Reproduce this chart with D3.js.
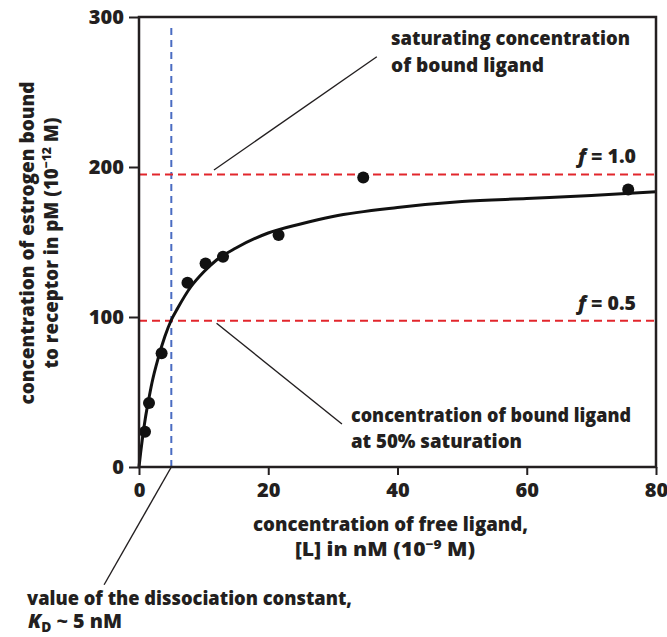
<!DOCTYPE html>
<html>
<head>
<meta charset="utf-8">
<script src="https://cdn.jsdelivr.net/npm/d3@7"></script>
<style>
  html, body { margin: 0; padding: 0; background: #fff; }
  svg text { font-family: "Open Sans", "Noto Sans", sans-serif; font-weight: 800; fill: #231f20; }
</style>
</head>
<body>
<div id="chart"></div>
<script>
// measured binding data: free ligand (nM) vs bound (pM)
var freeLigand = [0.93, 1.55, 3.5, 7.5, 10.3, 13.0, 21.6, 34.7, 75.7];
var boundLigand = [23.5, 42.7, 75.8, 122.9, 135.7, 140.2, 154.7, 193, 185];

// fitted saturation curve
var curveX = [0, 0.25, 0.5, 1, 1.5, 2, 3, 4, 5, 6, 8, 10, 12, 15, 20, 25, 30, 40, 50, 60, 70, 80];
var curveY = [0, 9.5, 18, 33, 45, 56, 73, 87, 98, 106, 120, 130, 138, 146, 156, 162, 167, 173, 177, 179, 181, 183.5];

var xTicks = [0, 20, 40, 60, 80];
var yTicks = [0, 100, 200, 300];

var fullSat = 195;   // f = 1.0
var halfSat = 97.5;  // f = 0.5
var kd = 5;

var width = 667, height = 637;
var x0 = 139, x1 = 656, y0 = 467, y1 = 17;

var svg = d3.select('#chart').append('svg')
  .attr('width', width)
  .attr('height', height);

var x = d3.scaleLinear().domain([0, 80]).range([x0, x1]);
var y = d3.scaleLinear().domain([0, 300]).range([y0, y1]);

var red = '#e2262c';
var blue = '#4a6cc2';

// reference lines
svg.append('line')
  .attr('x1', x(kd)).attr('x2', x(kd))
  .attr('y1', y(0)).attr('y2', y(295))
  .attr('stroke', blue).attr('stroke-width', 2)
  .attr('stroke-dasharray', '7,5');

[fullSat, halfSat].forEach(function(v){
  svg.append('line')
    .attr('x1', x(0)).attr('x2', x(80))
    .attr('y1', y(v)).attr('y2', y(v))
    .attr('stroke', red).attr('stroke-width', 2)
    .attr('stroke-dasharray', '8,5');
});

// leader lines (data coordinates)
var leaders = [
  [[11.6, 198], [36.8, 273.5]],
  [[12.0, 95.8], [31.4, 28.7]],
  [[kd, 0], [-5.4, -78.5]]
];
leaders.forEach(function(l){
  svg.append('line')
    .attr('x1', x(l[0][0])).attr('y1', y(l[0][1]))
    .attr('x2', x(l[1][0])).attr('y2', y(l[1][1]))
    .attr('stroke', '#231f20').attr('stroke-width', 1.4);
});

// curve
var line = d3.line()
  .x(function(d){ return x(d[0]); })
  .y(function(d){ return y(d[1]); })
  .curve(d3.curveMonotoneX);

svg.append('path')
  .datum(d3.zip(curveX, curveY))
  .attr('d', line)
  .attr('fill', 'none')
  .attr('stroke', '#111')
  .attr('stroke-width', 3);

// points
svg.selectAll('.pt')
  .data(d3.zip(freeLigand, boundLigand))
  .enter().append('circle')
  .attr('class', 'pt')
  .attr('cx', function(d){ return x(d[0]); })
  .attr('cy', function(d){ return y(d[1]); })
  .attr('r', 6)
  .attr('fill', '#111');

// axes
var xAxis = svg.append('g')
  .attr('transform', 'translate(0,' + y0 + ')')
  .call(d3.axisBottom(x).tickValues(xTicks).tickSize(8).tickSizeOuter(0).tickPadding(8));
var yAxis = svg.append('g')
  .attr('transform', 'translate(' + x0 + ',0)')
  .call(d3.axisLeft(y).tickValues(yTicks).tickSize(10).tickSizeOuter(0).tickPadding(5));

[xAxis, yAxis].forEach(function(a){
  a.select('.domain').remove();
  a.selectAll('line').attr('stroke', '#231f20').attr('stroke-width', 2);
  a.selectAll('text')
    .style('font-family', '"Open Sans", sans-serif')
    .style('font-weight', 800)
    .style('font-size', '20px')
    .attr('fill', '#231f20');
});

// frame
svg.append('rect')
  .attr('x', x0).attr('y', y1)
  .attr('width', x1 - x0).attr('height', y0 - y1)
  .attr('fill', 'none')
  .attr('stroke', '#231f20').attr('stroke-width', 2.5);

function label(txt, px, py, len, anchor){
  var t = svg.append('text')
    .attr('x', px).attr('y', py)
    .attr('font-size', 20)
    .attr('text-anchor', anchor || 'start')
    .attr('textLength', len)
    .attr('lengthAdjust', 'spacingAndGlyphs');
  txt.forEach(function(part){
    var s = t.append('tspan').text(part.t);
    if(part.sup){ s.attr('dy', -7).attr('font-size', 13); }
    if(part.sub){ s.attr('dy', 4).attr('font-size', 14); }
    if(part.back){ s.attr('dy', part.back); }
    if(part.it){ s.attr('font-style', 'italic'); }
  });
  return t;
}

// annotations
label([{t: 'saturating concentration'}], 391, 45, 239);
label([{t: 'of bound ligand'}], 391, 72, 153);
label([{t: 'concentration of bound ligand'}], 351, 422, 280);
label([{t: 'at 50% saturation'}], 351, 448, 171);
label([{t: 'value of the dissociation constant,'}], 27, 605, 325);
label([{t: 'K', it: true}, {t: 'D', sub: true}, {t: ' ~ 5 nM', back: -4}], 28, 628, 94);

label([{t: 'f', it: true}, {t: ' = 1.0'}], 636, 163, 58, 'end');
label([{t: 'f', it: true}, {t: ' = 0.5'}], 636, 310, 58, 'end');

// axis titles
label([{t: 'concentration of free ligand,'}], 253, 531, 275);
label([{t: '[L] in nM (10'}, {t: '\u22129', sup: true}, {t: ' M)', back: 7}], 295, 556, 180);

var yl = svg.append('g').attr('transform', 'translate(0,243) rotate(-90)');
yl.append('text')
  .attr('x', 0).attr('y', 34)
  .attr('font-size', 20).attr('text-anchor', 'middle')
  .attr('textLength', 323).attr('lengthAdjust', 'spacingAndGlyphs')
  .text('concentration of estrogen bound');
var yl2 = yl.append('text')
  .attr('x', 0).attr('y', 58)
  .attr('font-size', 20).attr('text-anchor', 'middle')
  .attr('textLength', 251).attr('lengthAdjust', 'spacingAndGlyphs');
yl2.append('tspan').text('to receptor in pM (10');
yl2.append('tspan').text('\u221212').attr('dy', -7).attr('font-size', 13);
yl2.append('tspan').text(' M)').attr('dy', 7);
</script>
</body>
</html>
